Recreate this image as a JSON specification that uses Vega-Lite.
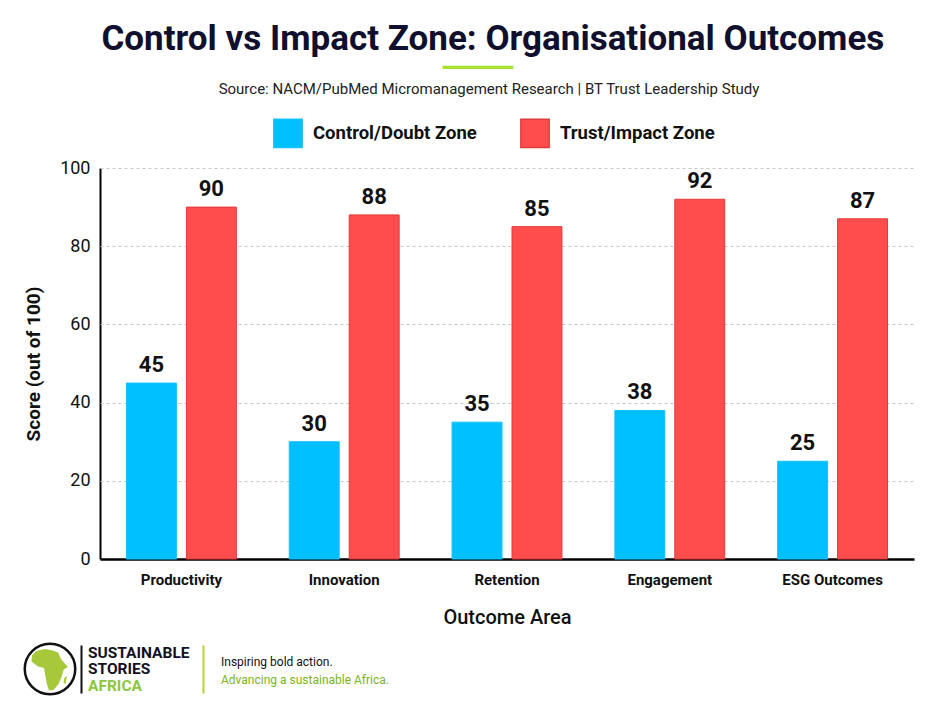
{
  "$schema": "https://vega.github.io/schema/vega-lite/v6.json",
  "background": "white",
  "padding": {"left": 19, "top": 21, "right": 5, "bottom": 5},
  "config": {
    "view": {"stroke": null},
    "font": "Roboto"
  },
  "datasets": {
    "scores": [
      {"area": "Productivity", "zone": "Control/Doubt Zone", "score": 45},
      {"area": "Productivity", "zone": "Trust/Impact Zone", "score": 90},
      {"area": "Innovation", "zone": "Control/Doubt Zone", "score": 30},
      {"area": "Innovation", "zone": "Trust/Impact Zone", "score": 88},
      {"area": "Retention", "zone": "Control/Doubt Zone", "score": 35},
      {"area": "Retention", "zone": "Trust/Impact Zone", "score": 85},
      {"area": "Engagement", "zone": "Control/Doubt Zone", "score": 38},
      {"area": "Engagement", "zone": "Trust/Impact Zone", "score": 92},
      {"area": "ESG Outcomes", "zone": "Control/Doubt Zone", "score": 25},
      {"area": "ESG Outcomes", "zone": "Trust/Impact Zone", "score": 87}
    ],
    "logo": [{"part": "ring"}, {"part": "continent"}],
    "brand": [
      {"line": "SUSTAINABLE", "tone": "dark"},
      {"line": "STORIES", "tone": "dark"},
      {"line": "AFRICA", "tone": "green"}
    ],
    "tagline": [
      {"line": "Inspiring bold action.", "tone": "dark"},
      {"line": "Advancing a sustainable Africa.", "tone": "green"}
    ]
  },
  "title": {
    "text": "Control vs Impact Zone: Organisational Outcomes",
    "subtitle": "━━━━━━⠀⠀",
    "fontSize": 35,
    "fontWeight": "bold",
    "color": "#10102e",
    "subtitleColor": "#a6e22e",
    "subtitleFont": "DejaVu Sans Mono",
    "subtitleFontSize": 19.5,
    "subtitlePadding": 2,
    "anchor": "middle",
    "dx": 26,
    "offset": 5
  },
  "spacing": 11,
  "vconcat": [
    {
      "data": {"name": "scores"},
      "spacing": 0,
      "resolve": {"scale": {"y": "shared"}},
      "hconcat": [
        {
          "width": 77,
          "height": 391,
          "mark": {"type": "rule", "opacity": 0},
          "encoding": {
            "y": {
              "field": "score",
              "type": "quantitative",
              "title": "Score (out of 100)",
              "scale": {"domain": [0, 100]},
              "axis": {
                "offset": -77,
                "values": [0, 20, 40, 60, 80, 100],
                "ticks": false,
                "grid": false,
                "labelFontSize": 18,
                "labelColor": "#111111",
                "labelPadding": 10,
                "domainColor": "#000000",
                "domainWidth": 2,
                "titleFontSize": 19,
                "titleFontWeight": "bold",
                "titleColor": "#111111",
                "titlePadding": 16
              }
            }
          }
        },
        {
          "title": {
            "text": "Source: NACM/PubMed Micromanagement Research | BT Trust Leadership Study",
            "fontSize": 15,
            "fontWeight": "normal",
            "color": "#222222",
            "anchor": "middle",
            "frame": "group",
            "dx": -18,
            "offset": 71
          },
          "width": 814,
          "height": 391,
          "encoding": {
            "x": {
              "field": "area",
              "type": "nominal",
              "sort": null,
              "title": "Outcome Area",
              "scale": {"paddingInner": 0.325, "paddingOuter": 0.1625},
              "axis": {
                "labelAngle": 0,
                "ticks": false,
                "labelFontSize": 15,
                "labelFontWeight": "bold",
                "labelColor": "#111111",
                "labelPadding": 13,
                "domainColor": "#000000",
                "domainWidth": 2.5,
                "titleFontSize": 20,
                "titleFontWeight": 500,
                "titleColor": "#111111",
                "titlePadding": 20
              }
            },
            "xOffset": {
              "field": "zone",
              "type": "nominal",
              "sort": ["Control/Doubt Zone", "Trust/Impact Zone"],
              "scale": {"paddingInner": 0.167}
            },
            "y": {
              "field": "score",
              "type": "quantitative",
              "scale": {"domain": [0, 100]},
              "axis": {
                "values": [0, 20, 40, 60, 80, 100],
                "title": null,
                "labels": false,
                "ticks": false,
                "domain": false,
                "gridDash": [3, 3],
                "gridColor": "#c8c8c8"
              }
            }
          },
          "layer": [
            {
              "mark": {"type": "bar", "strokeWidth": 1},
              "encoding": {
                "color": {
                  "field": "zone",
                  "type": "nominal",
                  "scale": {"domain": ["Control/Doubt Zone", "Trust/Impact Zone"], "range": ["#00bfff", "#ff4d4d"]},
                  "legend": {
                    "orient": "none",
                    "legendX": 250,
                    "legendY": -50,
                    "direction": "horizontal",
                    "title": null,
                    "symbolType": "square",
                    "symbolSize": 800,
                    "symbolOpacity": 1,
                    "labelFontSize": 18.5,
                    "labelFontWeight": "bold",
                    "labelColor": "#111111",
                    "labelOffset": 10,
                    "labelLimit": 300,
                    "columnPadding": 40
                  }
                },
                "stroke": {
                  "field": "zone",
                  "type": "nominal",
                  "scale": {"domain": ["Control/Doubt Zone", "Trust/Impact Zone"], "range": ["#12c2fb", "#e03a3a"]},
                  "legend": null
                }
              }
            },
            {
              "mark": {"type": "text", "baseline": "bottom", "dy": -6, "fontSize": 22, "fontWeight": "bold", "color": "#111111"},
              "encoding": {"text": {"field": "score", "type": "quantitative"}}
            }
          ]
        }
      ]
    },
    {
      "spacing": 0,
      "hconcat": [
        {
          "width": 54,
          "height": 48,
          "data": {"name": "logo"},
          "layer": [
            {
              "transform": [{"filter": "datum.part === 'ring'"}],
              "mark": {"type": "point", "shape": "circle", "size": 2550, "filled": false, "stroke": "#111111", "strokeWidth": 2.5, "opacity": 1},
              "encoding": {}
            },
            {
              "transform": [{"filter": "datum.part === 'continent'"}],
              "mark": {
                "type": "point",
                "shape": "M -0.55 -0.72 L -0.2 -0.8 L 0.1 -0.74 L 0.32 -0.66 L 0.45 -0.38 L 0.72 -0.08 L 0.55 0.02 L 0.46 0.32 L 0.34 0.6 L 0.14 0.84 L -0.04 0.86 L -0.14 0.55 L -0.2 0.2 L -0.24 -0.04 L -0.48 -0.1 L -0.74 -0.3 L -0.72 -0.55 Z M 0.58 0.35 L 0.68 0.28 L 0.62 0.6 L 0.54 0.55 Z",
                "size": 2500,
                "filled": true,
                "fill": "#a6c83a",
                "strokeWidth": 0,
                "opacity": 1
              },
              "encoding": {}
            }
          ]
        },
        {
          "width": 122,
          "height": 48,
          "data": {"name": "brand"},
          "encoding": {
            "x": {"datum": 0, "type": "quantitative", "scale": {"domain": [0, 1]}, "axis": null},
            "y": {
              "field": "line",
              "type": "nominal",
              "scale": {"domain": ["SUSTAINABLE", "STORIES", "AFRICA"], "paddingInner": 0, "paddingOuter": 0},
              "axis": {"labels": false, "ticks": false, "title": null, "grid": false, "domainColor": "#111111", "domainWidth": 2}
            },
            "text": {"field": "line"}
          },
          "layer": [
            {
              "transform": [{"filter": "datum.tone === 'dark'"}],
              "mark": {"type": "text", "align": "left", "dx": 7, "fontSize": 15.5, "fontWeight": "bold", "color": "#111122"}
            },
            {
              "transform": [{"filter": "datum.tone === 'green'"}],
              "mark": {"type": "text", "align": "left", "dx": 7, "dy": 1, "fontSize": 15.5, "fontWeight": "bold", "color": "#8cc63f"}
            }
          ]
        },
        {
          "width": 200,
          "height": 48,
          "data": {"name": "tagline"},
          "encoding": {
            "x": {"datum": 0, "type": "quantitative", "scale": {"domain": [0, 1]}, "axis": null},
            "y": {
              "field": "line",
              "type": "nominal",
              "scale": {"domain": ["Inspiring bold action.", "Advancing a sustainable Africa."], "paddingInner": 0, "paddingOuter": 0},
              "axis": {"labels": false, "ticks": false, "title": null, "grid": false, "domainColor": "#b8d435", "domainWidth": 2}
            },
            "text": {"field": "line"}
          },
          "layer": [
            {
              "transform": [{"filter": "datum.tone === 'dark'"}],
              "mark": {"type": "text", "align": "left", "dx": 18, "dy": 5, "fontSize": 12, "color": "#111111"}
            },
            {
              "transform": [{"filter": "datum.tone === 'green'"}],
              "mark": {"type": "text", "align": "left", "dx": 18, "dy": -1, "fontSize": 12, "color": "#7ab51d"}
            }
          ]
        }
      ]
    }
  ]
}
